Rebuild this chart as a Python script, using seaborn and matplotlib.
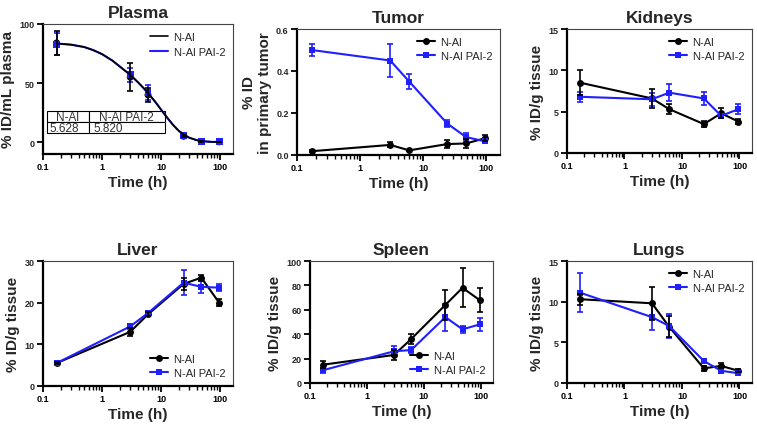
import numpy as np
import pandas as pd
import matplotlib
matplotlib.use("Agg")
import matplotlib.pyplot as plt
import matplotlib.ticker as mticker
import seaborn as sns

sns.set_style("ticks")
plt.rcParams['font.family'] = ['Liberation Sans', 'DejaVu Sans']
plt.rcParams['xtick.bottom'] = True
plt.rcParams['xtick.major.bottom'] = True
plt.rcParams['xtick.minor.bottom'] = True
plt.rcParams['xtick.direction'] = 'out'
plt.rcParams['xtick.minor.size'] = 3
plt.rcParams['xtick.minor.width'] = 1.0
plt.rcParams['xtick.major.size'] = 4
plt.rcParams['xtick.major.width'] = 1.3
plt.rcParams['xtick.color'] = 'black'

# time points (h)
time = [0.17, 3, 6, 24, 48, 96]

# plasma
plasma_nal = [84, 55, 40, 5, 0.5, 0.3]
plasma_nal_err = [10, 12, 6, 1, 0.3, 0.2]
plasma_pai = [83, 57, 42, 5.5, 0.6, 0.3]
plasma_pai_err = [9, 6, 6, 1, 0.3, 0.2]
# fitted curve
fit_x = [0.17, 0.3, 0.5, 0.7, 1, 1.5, 2, 3, 4, 5, 6, 7, 8, 10, 13, 16, 20, 25, 30, 40, 50, 70, 96]
fit_y = [83.5, 82.5, 80.5, 78, 74.5, 69, 64, 57, 51, 46, 41.5, 37.5, 34, 27.5, 20, 14.5, 9.5, 6, 3.8, 1.7, 0.8, 0.3, 0.1]
half_life = ['5.628', '5.820']

# tumor
tumor_nal = [0.018, 0.048, 0.022, 0.052, 0.055, 0.08]
tumor_nal_err = [0.004, 0.012, 0.004, 0.02, 0.02, 0.015]
tumor_pai = [0.5, 0.45, 0.35, 0.15, 0.085, 0.065]
tumor_pai_err = [0.03, 0.08, 0.035, 0.015, 0.02, 0.01]

# kidneys
kid_nal = [8.5, 6.6, 5.3, 3.5, 4.8, 3.8]
kid_nal_err = [1.5, 1.1, 0.6, 0.4, 0.6, 0.3]
kid_pai = [6.8, 6.5, 7.3, 6.6, 4.5, 5.3]
kid_pai_err = [0.6, 0.8, 1.0, 0.8, 0.3, 0.6]

# liver
liv_nal = [5.5, 13, 17.2, 24.5, 26, 20]
liv_nal_err = [0.3, 1.0, 0.5, 1.5, 0.7, 0.8]
liv_pai = [5.5, 14.3, 17.5, 24.8, 23.8, 23.6]
liv_pai_err = [0.3, 0.5, 0.5, 3.0, 1.5, 0.8]

# spleen
spl_nal = [15, 23, 36, 64, 78, 68]
spl_nal_err = [3, 4, 4, 12, 16, 10]
spl_pai = [10.5, 26, 27, 54, 44, 48]
spl_pai_err = [2, 4, 2.5, 11, 3, 5]

# lungs
lun_nal = [10.3, 9.8, 6.9, 1.8, 2.1, 1.5]
lun_nal_err = [0.7, 2.0, 1.3, 0.3, 0.3, 0.2]
lun_pai = [11.1, 8.1, 7.0, 2.7, 1.5, 1.2]
lun_pai_err = [2.4, 1.6, 1.5, 0.3, 0.2, 0.2]

labels = ['N-Al', 'N-Al PAI-2']
BLUE = '#1f1fff'

W, H = 757, 427
fig = plt.figure(figsize=(W / 100, H / 100), dpi=100)

minor_pos = [k * 10.0 ** e for e in range(-1, 2) for k in range(2, 10)]
axes = []


def make_ax(l, r, t, b):
    a = fig.add_axes([l / W, 1 - b / H, (r - l) / W, (b - t) / H])
    axes.append(a)
    return a


def style(ax, title, ylabel, ylim, yticks):
    ax.set_xscale('log')
    ax.set_xticks([0.1, 1, 10, 100])
    ax.set_xticklabels(['0.1', '1', '10', '100'])
    ax.set_xticks(minor_pos, minor=True)
    ax.xaxis.set_minor_formatter(mticker.NullFormatter())
    ax.set_xlim(0.1, 165)
    ax.set_ylim(*ylim)
    ax.set_yticks(yticks)
    ax.set_title(title, fontsize=12.5, fontweight='bold', pad=5)
    ax.set_ylabel(ylabel, fontsize=11, fontweight='bold', labelpad=3)
    ax.set_xlabel('Time (h)', fontsize=11, fontweight='bold', labelpad=3)
    for s in ['left', 'bottom']:
        ax.spines[s].set_linewidth(1.6)
        ax.spines[s].set_color('black')
    for s in ['top', 'right']:
        ax.spines[s].set_linewidth(0.8)
        ax.spines[s].set_color('#444444')
    for lab in ax.get_xticklabels() + ax.get_yticklabels():
        lab.set_fontweight('bold')


def draw(ax, nal, nal_err, pai, pai_err, lines=True):
    df = pd.DataFrame({'time': time * 2, 'val': nal + pai,
                       'grp': [labels[0]] * 6 + [labels[1]] * 6})
    ax.errorbar(time, nal, yerr=nal_err, fmt='none', ecolor='black',
                elinewidth=1.2, capsize=2.5, capthick=1.2, zorder=3)
    ax.errorbar(time, pai, yerr=pai_err, fmt='none', ecolor=BLUE,
                elinewidth=1.2, capsize=2.5, capthick=1.2, zorder=2)
    if lines:
        sns.lineplot(data=df, x='time', y='val', hue='grp', style='grp',
                     palette=['black', BLUE], markers=['o', 's'], dashes=False,
                     markersize=5, markeredgewidth=0, linewidth=1.5, ax=ax,
                     hue_order=labels, style_order=labels)
    else:
        sns.scatterplot(data=df, x='time', y='val', hue='grp', style='grp',
                        palette=['black', BLUE], markers=['o', 's'], s=25,
                        linewidth=0, ax=ax, legend=False,
                        hue_order=labels, style_order=labels)


def legend(ax, loc):
    h, l = ax.get_legend_handles_labels()
    order = [l.index(x) for x in labels]
    ax.legend([h[i] for i in order], labels, loc=loc, frameon=False,
              fontsize=8, handlelength=1.6, handletextpad=0.5,
              borderaxespad=0.3, labelspacing=0.4)


# Plasma
ax = make_ax(43, 233, 25, 155)
draw(ax, plasma_nal, plasma_nal_err, plasma_pai, plasma_pai_err, lines=False)
ax.plot(fit_x, fit_y, color=BLUE, lw=1.5, label=labels[1])
ax.plot(fit_x, fit_y, color='black', lw=1.2, label=labels[0])
style(ax, 'Plasma', '% ID/mL plasma', (-10, 100), [0, 50, 100])
h, l = ax.get_legend_handles_labels()
ax.legend([h[l.index(x)] for x in labels], labels, loc='upper right',
          frameon=False, fontsize=8, handlelength=1.6, handletextpad=0.5,
          borderaxespad=0.3)
tab = ax.table(cellText=[half_life], colLabels=labels, cellLoc='left',
               bbox=[0.02, 0.16, 0.62, 0.17])
tab.auto_set_font_size(False)
tab.set_fontsize(8.5)
for (r, c), cell in tab.get_celld().items():
    cell.set_linewidth(0.8)
    cell.get_text().set_color('#333333')
    cell.PAD = 0.06
    cell.set_width(0.22 if c == 0 else 0.40)

# Tumor
ax = make_ax(297, 500, 30, 156)
draw(ax, tumor_nal, tumor_nal_err, tumor_pai, tumor_pai_err)
style(ax, 'Tumor', '% ID\nin primary tumor', (0, 0.6), [0.0, 0.2, 0.4, 0.6])
ax.set_yticklabels(['0.0', '0.2', '0.4', '0.6'])
for lab in ax.get_yticklabels():
    lab.set_fontweight('bold')
legend(ax, 'upper right')

# Kidneys
ax = make_ax(567, 752, 30, 154)
draw(ax, kid_nal, kid_nal_err, kid_pai, kid_pai_err)
style(ax, 'Kidneys', '% ID/g tissue', (0, 15), [0, 5, 10, 15])
legend(ax, 'upper right')

# Liver
ax = make_ax(43, 233, 262, 387)
draw(ax, liv_nal, liv_nal_err, liv_pai, liv_pai_err)
style(ax, 'Liver', '% ID/g tissue', (0, 30), [0, 10, 20, 30])
legend(ax, 'lower right')

# Spleen
ax = make_ax(310, 493, 262, 384)
draw(ax, spl_nal, spl_nal_err, spl_pai, spl_pai_err)
style(ax, 'Spleen', '% ID/g tissue', (0, 100), [0, 20, 40, 60, 80, 100])
legend(ax, 'lower right')

# Lungs
ax = make_ax(567, 752, 262, 384)
draw(ax, lun_nal, lun_nal_err, lun_pai, lun_pai_err)
style(ax, 'Lungs', '% ID/g tissue', (0, 15), [0, 5, 10, 15])
legend(ax, 'upper right')

for a in axes:
    a.xaxis.set_tick_params(which='major', bottom=True, top=False,
                            direction='out', length=4, width=1.3,
                            color='black', labelsize=6.5, pad=2)
    a.xaxis.set_tick_params(which='minor', bottom=True, top=False,
                            direction='out', length=3, width=1.0,
                            color='black')
    a.yaxis.set_tick_params(which='major', left=True, right=False,
                            direction='out', length=4, width=1.3,
                            color='black', labelsize=6.5, pad=2)
    a.yaxis.set_tick_params(which='minor', left=False, right=False)

fig.savefig('out.png', dpi=100)
